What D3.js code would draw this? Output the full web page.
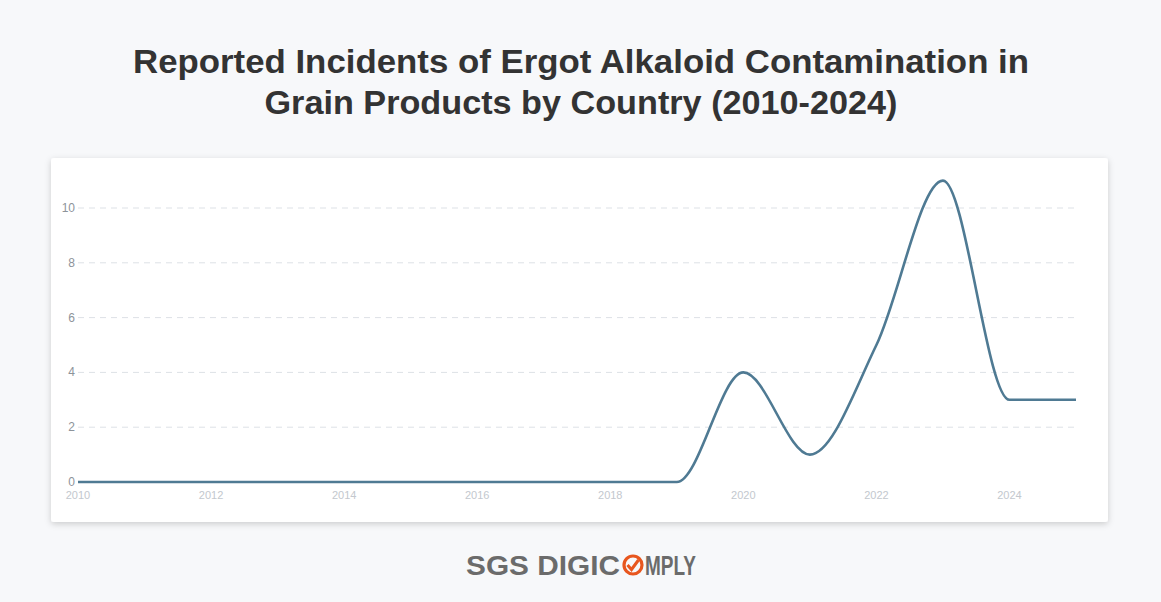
<!DOCTYPE html>
<html><head><meta charset="utf-8">
<script src="https://cdn.jsdelivr.net/npm/d3@7"></script>
<style>body{margin:0;background:#f7f8fa;}svg{display:block}</style>
</head><body><svg id="c" width="1161" height="602"></svg>
<script>
const years=[2010,2011,2012,2013,2014,2015,2016,2017,2018,2019,2020,2021,2022,2023,2024,2025];
const incidents=[0,0,0,0,0,0,0,0,0,0,4,1,5,11,3,3];
const yTicks=[0,2,4,6,8,10];
const xTicks=[2010,2012,2014,2016,2018,2020,2022,2024];
const titleLines=["Reported Incidents of Ergot Alkaloid Contamination in","Grain Products by Country (2010-2024)"];
const titleWidths=[896,633];

const svg=d3.select("#c");
const defs=svg.append("defs");
const f=defs.append("filter").attr("id","sh").attr("x","-5%").attr("y","-5%").attr("width","110%").attr("height","115%");
f.append("feDropShadow").attr("dx",0).attr("dy",2).attr("stdDeviation",3).attr("flood-color","#000").attr("flood-opacity",0.18);
svg.append("rect").attr("x",0).attr("y",0).attr("width",1161).attr("height",602).attr("fill","#f7f8fa");
svg.selectAll(".t").data(titleLines).join("text").attr("x",581).attr("y",(d,i)=>73+i*41)
 .attr("text-anchor","middle").attr("font-family","'Liberation Sans', Arial, sans-serif").attr("font-weight",700)
 .attr("font-size",33).attr("fill","#333").attr("textLength",(d,i)=>titleWidths[i]).attr("lengthAdjust","spacingAndGlyphs").text(d=>d);
svg.append("rect").attr("x",51).attr("y",158).attr("width",1057).attr("height",364).attr("rx",3).attr("fill","#fff").attr("filter","url(#sh)");

const x=d3.scaleLinear().domain([2010,2025]).range([78,1076]);
const y=d3.scaleLinear().domain([0,11]).range([482,180.6]);
const g=svg.append("g");
g.selectAll(".gl").data(yTicks.filter(d=>d>0)).join("line").attr("x1",78).attr("x2",1076)
 .attr("y1",d=>y(d)).attr("y2",d=>y(d)).attr("stroke","#dde1e6").attr("stroke-dasharray","6,5");
g.selectAll(".yl").data(yTicks).join("text").attr("x",75).attr("y",d=>y(d)+4).attr("text-anchor","end")
 .attr("font-family","'Liberation Sans', Arial, sans-serif").attr("font-size",12).attr("fill","#8d939a").text(d=>d);
g.selectAll(".xl").data(xTicks).join("text").attr("x",d=>x(d)).attr("y",499).attr("text-anchor","middle")
 .attr("font-family","'Liberation Sans', Arial, sans-serif").attr("font-size",11).attr("fill","#c3c8ce").text(d=>d);
const line=d3.line().x((d,i)=>x(years[i])).y(d=>y(d)).curve(d3.curveMonotoneX);
g.append("path").attr("d",line(incidents)).attr("fill","none").attr("stroke","#4f7a93").attr("stroke-width",2.6);

const lg=svg.append("g").attr("font-family","'Liberation Sans', Arial, sans-serif").attr("font-weight",700).attr("font-size",27).attr("fill","#6b6b6b");
lg.append("text").attr("x",466).attr("y",575).attr("textLength",154).attr("lengthAdjust","spacingAndGlyphs").text("SGS DIGIC");
lg.append("circle").attr("cx",633).attr("cy",565).attr("r",9).attr("fill","none").attr("stroke","#e8561e").attr("stroke-width",3.2);
lg.append("path").attr("d","M627.5,565 L631.5,569.5 L638.5,560").attr("fill","none").attr("stroke","#e8561e").attr("stroke-width",3);
lg.append("text").attr("x",645).attr("y",575).attr("textLength",51).attr("lengthAdjust","spacingAndGlyphs").text("MPLY");
</script></body></html>
